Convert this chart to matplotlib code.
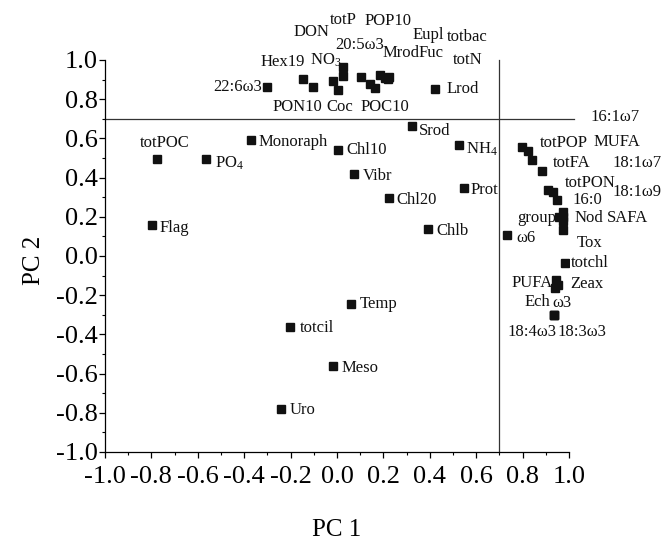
import matplotlib
matplotlib.use("Agg")
import matplotlib.pyplot as plt
from matplotlib.ticker import MultipleLocator

plt.rcParams['font.family'] = ['Liberation Serif', 'DejaVu Serif']
plt.rcParams['mathtext.fontset'] = 'custom'
plt.rcParams['mathtext.rm'] = 'Liberation Serif'
plt.rcParams['mathtext.it'] = 'Liberation Serif:italic'
plt.rcParams['axes.unicode_minus'] = False

# variable loadings on PC1 / PC2
names = ['22:6ω3', 'Hex19', 'PON10', 'DON', 'Coc', r'NO$_\mathrm{3}$', 'totP', '20:5ω3',
         'POP10', 'POC10', 'Mrod', 'Fuc', 'Eupl', 'totbac', 'totN', 'Lrod',
         'totPOC', r'PO$_\mathrm{4}$', 'Monoraph', 'Chl10', 'Vibr', 'Chl20', 'Srod',
         r'NH$_\mathrm{4}$', 'Prot', 'Chlb', 'Flag', 'Temp', 'totcil', 'Meso', 'Uro',
         'ω6', 'totPOP', 'MUFA', 'totFA', '18:1ω7', 'totPON', '18:1ω9', '16:0',
         'group', 'Nod', 'SAFA', '16:1ω7', 'Tox', 'totchl', 'PUFA', 'Zeax', 'ω3',
         'Ech', '18:4ω3', '18:3ω3']
pc1 = [-0.30, -0.145, -0.102, -0.016, 0.003, 0.027, 0.027, 0.103,
       0.142, 0.164, 0.185, 0.207, 0.221, 0.225, 0.218, 0.422,
       -0.777, -0.566, -0.371, 0.006, 0.075, 0.224, 0.325,
       0.527, 0.547, 0.391, -0.799, 0.059, -0.203, -0.016, -0.241,
       0.731, 0.796, 0.825, 0.839, 0.882, 0.911, 0.930, 0.950,
       0.957, 0.974, 0.974, 0.974, 0.974, 0.983, 0.944, 0.954, 0.940,
       0.935, 0.935, 0.935]
pc2 = [0.86, 0.903, 0.864, 0.893, 0.847, 0.966, 0.920, 0.915,
       0.880, 0.855, 0.923, 0.910, 0.907, 0.912, 0.905, 0.850,
       0.493, 0.495, 0.592, 0.541, 0.420, 0.298, 0.663,
       0.566, 0.345, 0.136, 0.158, -0.247, -0.364, -0.561, -0.781,
       0.107, 0.558, 0.537, 0.490, 0.435, 0.337, 0.328, 0.286,
       0.200, 0.226, 0.200, 0.176, 0.133, -0.034, -0.122, -0.148, -0.165,
       -0.300, -0.300, -0.300]

# label placement: (dx, dy) in pixels from the marker, alignment
label_pos = {
    '22:6ω3': (-5, 0, 'right'), 'Hex19': (-43, 17, 'left'), 'PON10': (-41, -20, 'left'),
    'DON': (-40, 49, 'left'), 'Coc': (-11, -17, 'left'), r'NO$_\mathrm{3}$': (-33, 6, 'left'),
    'totP': (-13, 56, 'left'), '20:5ω3': (-26, 32, 'left'), 'POP10': (-5, 63, 'left'),
    'POC10': (-15, -19, 'left'), 'Mrod': (3, 22, 'left'), 'Fuc': (33, 25, 'left'),
    'Eupl': (24, 43, 'left'), 'totbac': (58, 40, 'left'), 'totN': (65, 19, 'left'),
    'Lrod': (12, 0, 'left'),
    'totPOC': (-17, 16, 'left'), r'PO$_\mathrm{4}$': (9, -4, 'left'),
    'Monoraph': (8, -2, 'left'), 'Chl10': (8, 0, 'left'), 'Vibr': (8, -2, 'left'),
    'Chl20': (7, -2, 'left'), 'Srod': (6, -5, 'left'), r'NH$_\mathrm{4}$': (7, -4, 'left'),
    'Prot': (7, -2, 'left'), 'Chlb': (9, -2, 'left'), 'Flag': (8, -3, 'left'),
    'Temp': (9, 0, 'left'), 'totcil': (10, -1, 'left'), 'Meso': (8, -2, 'left'),
    'Uro': (9, -1, 'left'),
    'ω6': (10, -3, 'left'), 'totPOP': (18, 4, 'left'), 'MUFA': (65, 9, 'left'),
    'totFA': (21, -3, 'left'), '18:1ω7': (71, 8, 'left'), 'totPON': (17, 7, 'left'),
    '18:1ω9': (60, 0, 'left'), '16:0': (15, 0, 'left'), 'group': (-3, -1, 'right'),
    'Nod': (12, -6, 'left'), 'SAFA': (44, -1, 'left'), '16:1ω7': (27, 104, 'left'),
    'Tox': (14, -13, 'left'), 'totchl': (6, 0, 'left'), 'PUFA': (-3, -3, 'right'),
    'Zeax': (12, 1, 'left'), 'ω3': (-3, -15, 'left'), 'Ech': (-29, 13, 'left'),
    '18:4ω3': (-46, -17, 'left'), '18:3ω3': (4, -17, 'left'),
}

fig = plt.figure(figsize=(6.67, 5.42), dpi=100)
ax = fig.add_axes([0.1574, 0.1661, 0.6957, 0.7232])

ax.plot(pc1, pc2, 's', color='#111111', markersize=5.5, linestyle='none')
for n, x, y in zip(names, pc1, pc2):
    dx, dy, ha = label_pos[n]
    ax.annotate(n, (x, y), xytext=(dx, dy), textcoords='offset pixels',
                ha=ha, va='center', fontsize=12, color='#111111')

# 0.7 reference lines
ax.plot([-1.0, 1.02], [0.7, 0.7], color='#333333', lw=0.9, clip_on=False)
ax.plot([0.7, 0.7], [-1.0, 1.0], color='#333333', lw=0.9, clip_on=False)

ax.set_xlim(-1.0, 1.0)
ax.set_ylim(-1.0, 1.0)
for s in ['top', 'right']:
    ax.spines[s].set_visible(False)
for s in ['left', 'bottom']:
    ax.spines[s].set_linewidth(0.9)
ax.xaxis.set_major_locator(MultipleLocator(0.2))
ax.xaxis.set_minor_locator(MultipleLocator(0.1))
ax.yaxis.set_major_locator(MultipleLocator(0.2))
ax.yaxis.set_minor_locator(MultipleLocator(0.1))
ax.xaxis.set_major_formatter(lambda v, p: f'{v:.1f}'.replace('-0.0', '0.0'))
ax.yaxis.set_major_formatter(lambda v, p: f'{v:.1f}'.replace('-0.0', '0.0'))
ax.tick_params(which='major', length=4, width=0.9, labelsize=19)
ax.tick_params(axis='x', which='major', pad=6)
ax.tick_params(axis='y', which='major', pad=1)
ax.tick_params(which='minor', length=2.5, width=0.8)

ax.set_xlabel('PC 1', fontsize=18)
ax.set_ylabel('PC 2', fontsize=18)
ax.xaxis.set_label_coords(0.5, -0.17)
ax.yaxis.set_label_coords(-0.13, 0.49)

fig.savefig('out.png', dpi=100)
